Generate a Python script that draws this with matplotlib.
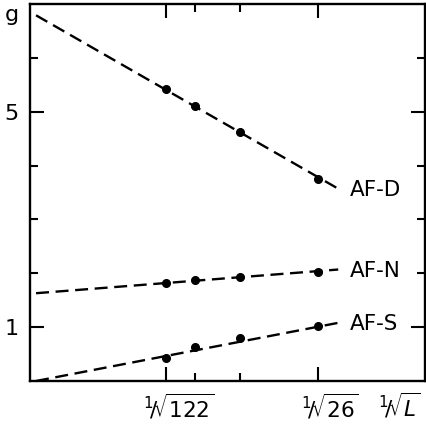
import numpy as np
import matplotlib.pyplot as plt
import matplotlib.transforms as mtransforms

plt.rcParams['font.family'] = 'DejaVu Sans'
plt.rcParams['mathtext.fontset'] = 'dejavusans'

# cluster sizes, x = 1/sqrt(L)
sizes = [122, 82, 50, 26]
af_d = [5.42, 5.10, 4.62, 3.75]
af_n = [1.82, 1.87, 1.94, 2.02]
af_s = [0.43, 0.63, 0.79, 1.02]

# dashed extrapolation lines (x = 0 .. x_end)
fit_x = [0.0, 0.21]
fit_d = [6.79, 3.57]
fit_n = [1.63, 2.07]
fit_s = [0.0, 1.08]

series_names = ['AF-D', 'AF-N', 'AF-S']
xtick_sizes = [122, 26]
xtick_labels = [r'$^1\!/\!\sqrt{122}$', r'$^1\!/\!\sqrt{26}$']

x = 1 / np.sqrt(sizes)

fig = plt.figure(figsize=(4.26, 4.29), dpi=100)
ax = fig.add_axes([30 / 426, 48 / 429, 395 / 426, 377 / 429])

dash = (5.5, 2.8)
for fit, pts, name in zip([fit_d, fit_n, fit_s], [af_d, af_n, af_s], series_names):
    ax.plot(fit_x, fit, color='black', lw=1.7, dashes=dash, clip_on=False)
    ax.plot(x, pts, 'o', color='black', ms=5.5)
    ax.annotate(name, (fit_x[1], fit[1]), textcoords='offset points', xytext=(8, -1),
                fontsize=15.5, va='center', ha='left')

ax.set_xlim(-0.0042, 0.2703)
ax.set_ylim(0, 7.0)

# y ticks: every integer, labels at 1 and 5
ax.set_yticks([1, 5])
ax.set_yticklabels(['1', '5'], fontsize=16)
ax.set_yticks([2, 3, 4, 6], minor=True)

# x ticks at the cluster sizes, labels drawn as text a little to the right
ax.set_xticks(1 / np.sqrt(xtick_sizes))
ax.set_xticklabels([])
ax.set_xticks(1 / np.sqrt([82, 50]), minor=True)
offset = mtransforms.ScaledTranslation(12 / 100, 0, fig.dpi_scale_trans)
for xs, lab in zip(xtick_sizes, xtick_labels):
    ax.text(1 / np.sqrt(xs), -0.068, lab, transform=ax.get_xaxis_transform() + offset,
            fontsize=15.5, ha='center', va='center')

ax.tick_params(which='both', direction='in', top=True, right=True, width=1.5)
ax.tick_params(which='major', length=10, pad=8)
ax.tick_params(which='minor', length=6)
ax.tick_params(axis='y', which='major', pad=8)

for sp in ax.spines.values():
    sp.set_linewidth(1.7)

ax.text(-0.046, 6.8, 'g', transform=ax.get_yaxis_transform(), fontsize=16,
        ha='center', va='center')
fig.text(378 / 426, 1 - 406 / 429, r'$^1\!/\!\sqrt{L}$', fontsize=15.5, ha='left', va='center')

fig.savefig('out.png', dpi=100)
